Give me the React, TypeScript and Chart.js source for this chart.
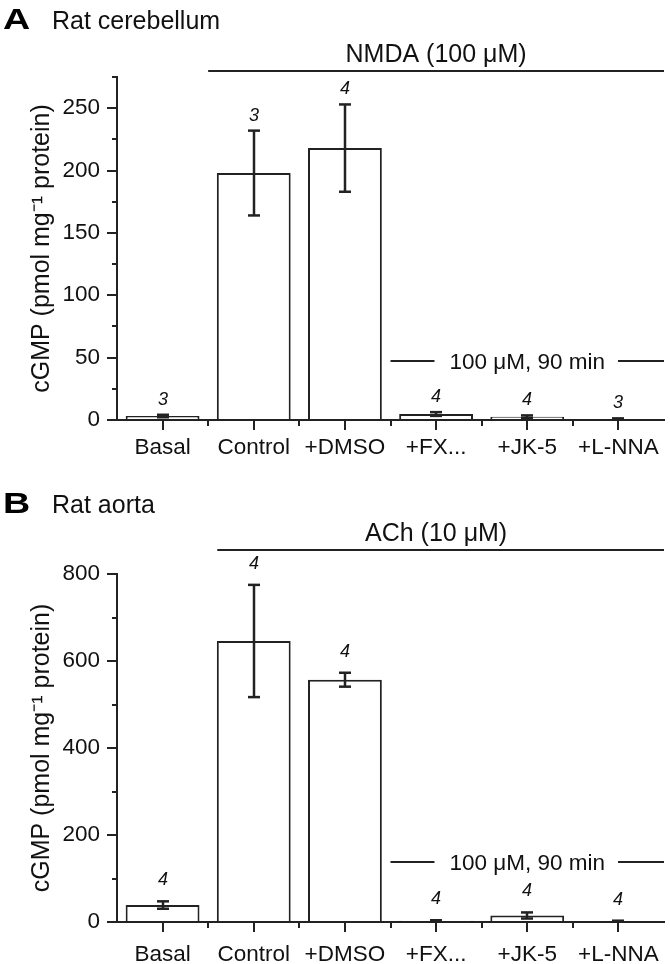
import React, { useEffect, useRef } from "react";
import { Chart, registerables } from "chart.js";

Chart.register(...registerables);

// ---------- data ----------
const categories = ["Basal", "Control", "+DMSO", "+FX...", "+JK-5", "+L-NNA"];

const cerebellumMeans = [3.2, 198, 218, 4.8, 2.7, 0.8];
const cerebellumErrors = [1, 34, 35, 1.5, 1, 0.5];
const cerebellumN = ["3", "3", "4", "4", "4", "3"];
const cerebellumTicks = [0, 50, 100, 150, 200, 250];
const cerebellumMinorTicks = [25, 75, 125, 175, 225, 275];

const aortaMeans = [39, 646, 557, 3, 15, 2];
const aortaErrors = [8.5, 129, 16, 1, 7, 1];
const aortaN = ["4", "4", "4", "4", "4", "4"];
const aortaTicks = [0, 200, 400, 600, 800];
const aortaMinorTicks = [100, 300, 500, 700];

const yTitle = "cGMP (pmol mg\u207B\u00B9 protein)";
const innerLabel = "100 \u03BCM, 90 min";

const FONT = "'Liberation Sans', Arial, Helvetica, sans-serif";
const AXIS = "#222222";
const TEXT = "#111111";

type Panel = {
  letter: string;
  title: string;
  means: number[];
  errors: number[];
  nLabels: string[];
  ticks: number[];
  minorTicks: number[];
  max: number;
  bracket: string;
  bracketValue: number;
  bracketStart: number;
  innerValue: number;
  padTop: number;
  xHeight: number;
  labelPad: number;
  nOffset: number;
  headBaseline: number;
};

const panels: Panel[] = [
  {
    letter: "A",
    title: "Rat cerebellum",
    means: cerebellumMeans,
    errors: cerebellumErrors,
    nLabels: cerebellumN,
    ticks: cerebellumTicks,
    minorTicks: cerebellumMinorTicks,
    max: 275,
    bracket: "NMDA (100 \u03BCM)",
    bracketValue: 280,
    bracketStart: 0.5,
    innerValue: 47.6,
    padTop: 77,
    xHeight: 62,
    labelPad: 4,
    nOffset: 15,
    headBaseline: 29,
  },
  {
    letter: "B",
    title: "Rat aorta",
    means: aortaMeans,
    errors: aortaErrors,
    nLabels: aortaN,
    ticks: aortaTicks,
    minorTicks: aortaMinorTicks,
    max: 800,
    bracket: "ACh (10 \u03BCM)",
    bracketValue: 855,
    bracketStart: 0.6,
    innerValue: 138.6,
    padTop: 92,
    xHeight: 42,
    labelPad: 9,
    nOffset: 21,
    headBaseline: 31,
  },
];

function makePlugin(p: Panel) {
  return {
    id: "decor" + p.letter,
    afterDraw(chart: any) {
      const { ctx, chartArea } = chart;
      const x = chart.scales.x;
      const y = chart.scales.y;
      const line = (x1: number, y1: number, x2: number, y2: number) => {
        ctx.beginPath();
        ctx.moveTo(x1, y1);
        ctx.lineTo(x2, y2);
        ctx.stroke();
      };
      ctx.save();
      ctx.strokeStyle = AXIS;
      ctx.lineWidth = 2;
      ctx.lineCap = "butt";

      // minor y ticks
      p.minorTicks.forEach((v) => {
        const py = Math.round(y.getPixelForValue(v));
        line(chartArea.left - 5, py, chartArea.left, py);
      });
      // minor x ticks at category boundaries
      for (let i = 0; i < categories.length - 1; i++) {
        const px = Math.round(x.getPixelForValue(i + 0.5));
        line(px, chartArea.bottom, px, chartArea.bottom + 6);
      }

      // error bars + n labels
      ctx.fillStyle = TEXT;
      ctx.font = `italic 18px ${FONT}`;
      ctx.textAlign = "center";
      ctx.textBaseline = "middle";
      p.means.forEach((m, i) => {
        const e = p.errors[i];
        const px = Math.round(x.getPixelForValue(i));
        const hi = y.getPixelForValue(m + e);
        const lo = y.getPixelForValue(Math.max(0, m - e));
        ctx.lineWidth = 2.5;
        line(px, hi, px, lo);
        line(px - 6, hi, px + 6, hi);
        line(px - 6, lo, px + 6, lo);
        ctx.fillText(p.nLabels[i], px, hi - p.nOffset);
      });

      // top bracket (treatment)
      ctx.lineWidth = 2;
      const bx1 = x.getPixelForValue(p.bracketStart);
      const bxr = chartArea.right;
      const by = Math.round(y.getPixelForValue(p.bracketValue));
      line(bx1, by, bxr, by);
      const bc = (x.getPixelForValue(0.5) + bxr) / 2;
      ctx.font = `25px ${FONT}`;
      ctx.textBaseline = "alphabetic";
      ctx.fillText(p.bracket, bc, by - 9);

      // inner bracket (inhibitor)
      const ix1 = x.getPixelForValue(2.5);
      const iy = Math.round(y.getPixelForValue(p.innerValue));
      const ic = (ix1 + bxr) / 2;
      ctx.font = `22.5px ${FONT}`;
      const w = ctx.measureText(innerLabel).width;
      line(ix1, iy, ic - w / 2 - 15, iy);
      line(ic + w / 2 + 13, iy, bxr, iy);
      ctx.fillText(innerLabel, ic, iy + 8);

      // panel heading
      ctx.textAlign = "left";
      ctx.save();
      ctx.translate(3, p.headBaseline);
      ctx.scale(1.3, 1);
      ctx.font = `bold 29px ${FONT}`;
      ctx.fillStyle = "#000000";
      ctx.fillText(p.letter, 0, 0);
      ctx.restore();
      ctx.font = `25px ${FONT}`;
      ctx.fillText(p.title, 52, p.headBaseline);
      ctx.restore();
    },
  };
}

function PanelChart({ p, top }: { p: Panel; top: number }) {
  const ref = useRef<HTMLCanvasElement | null>(null);
  useEffect(() => {
    if (!ref.current) return;
    const chart = new Chart(ref.current, {
      type: "bar",
      data: {
        labels: categories,
        datasets: [
          {
            data: p.means,
            backgroundColor: "#ffffff",
            borderColor: AXIS,
            borderWidth: 2,
            borderSkipped: "start",
            categoryPercentage: 1,
            barPercentage: 0.81,
          },
        ],
      },
      options: {
        responsive: false,
        maintainAspectRatio: false,
        animation: false,
        devicePixelRatio: 1,
        layout: { padding: { top: p.padTop, right: 6, left: 0, bottom: 0 } },
        plugins: { legend: { display: false }, tooltip: { enabled: false }, title: { display: false } },
        scales: {
          x: {
            type: "category",
            offset: true,
            grid: { drawOnChartArea: false, offset: false, tickLength: 10, color: AXIS, lineWidth: 2 },
            border: { display: true, color: AXIS, width: 2 },
            ticks: {
              font: { family: FONT, size: 22.5 },
              color: TEXT,
              padding: p.labelPad,
              maxRotation: 0,
              minRotation: 0,
              autoSkip: false,
            },
            afterFit: (s: any) => {
              s.height = p.xHeight;
              s.paddingLeft = 0;
              s.paddingRight = 0;
            },
          },
          y: {
            type: "linear",
            min: 0,
            max: p.max,
            grid: { drawOnChartArea: false, tickLength: 10, color: AXIS, lineWidth: 2 },
            border: { display: true, color: AXIS, width: 2 },
            ticks: {
              font: { family: FONT, size: 22.5 },
              color: TEXT,
              padding: 7,
              includeBounds: false,
            },
            afterBuildTicks: (s: any) => {
              s.ticks = p.ticks.map((v) => ({ value: v }));
            },
            title: {
              display: true,
              text: yTitle,
              font: { family: FONT, size: 25 },
              color: TEXT,
              padding: { top: 27, bottom: 0 },
            },
            afterFit: (s: any) => {
              s.width = 117;
              s.paddingTop = 0;
              s.paddingBottom = 0;
            },
          },
        },
      },
      plugins: [makePlugin(p)],
    } as any);
    return () => chart.destroy();
  }, [p]);
  return (
    <canvas
      ref={ref}
      width={670}
      height={482}
      style={{ position: "absolute", left: 0, top, width: 670, height: 482 }}
    />
  );
}

export default function App() {
  return (
    <div
      style={{
        position: "absolute",
        left: 0,
        top: 0,
        width: 670,
        height: 964,
        background: "#ffffff",
        overflow: "hidden",
      }}
    >
      <PanelChart p={panels[0]} top={0} />
      <PanelChart p={panels[1]} top={482} />
    </div>
  );
}
